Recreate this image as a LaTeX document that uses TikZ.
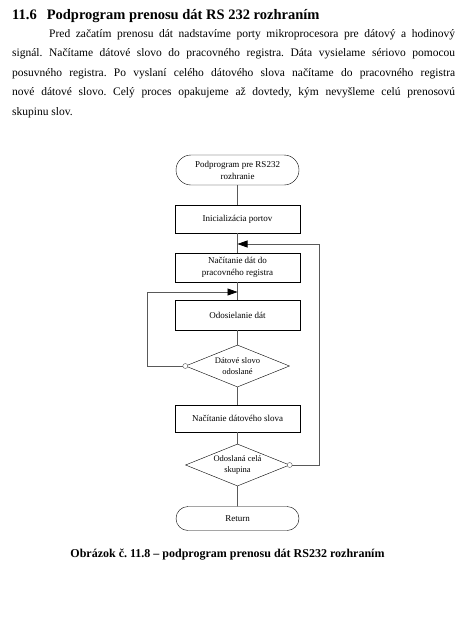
\documentclass[tikz,border=0pt]{standalone}
\usepackage{fontspec}
\setmainfont{Liberation Serif}
\usetikzlibrary{shapes.geometric,shapes.misc,arrows.meta}
\frenchspacing

\begin{document}
\begin{tikzpicture}[x=1pt, y=-1pt,
	krok/.style={draw, minimum width=125pt, minimum height=28pt, inner sep=1pt, align=center, font=\fontsize{9}{12}\selectfont},
	koniec/.style={krok, rounded rectangle, minimum height=30pt},
	rozhod/.style={draw, diamond, aspect=2.5, minimum width=104pt, minimum height=42pt, inner sep=0pt, align=center, font=\fontsize{8.5}{11}\selectfont},
	spoj/.style={draw=black!65, line width=0.7pt},
	sipka/.style={spoj, -{Triangle[length=10pt, width=7pt, color=black]}},
	kruh/.style={circle, draw=black!65, fill=white, inner sep=0pt, minimum size=5pt}]
	\def\xS{237.5} %stred schemy
	\useasboundingbox[fill=white] (0,0) rectangle (470,632);
	
	%Nadpis a text
	\node[anchor=base west, inner sep=0pt, font=\fontsize{14.5}{16}\bfseries\selectfont] (nadpis) at (12,19)
	{11.6\hspace{10pt}Podprogram prenosu dát RS 232 rozhraním};
	\node[anchor=base west, inner sep=0pt, text width=443pt, align=justify, font=\fontsize{11.5}{19.6}\selectfont] (odsek) at (12,37)
	{\hspace*{37pt}Pred začatím prenosu dát nadstavíme porty mikroprocesora pre dátový a hodinový\linebreak
	signál. Načítame dátové slovo do pracovného registra. Dáta vysielame sériovo pomocou\linebreak
	posuvného registra. Po vyslaní celého dátového slova načítame do pracovného registra\linebreak
	nové dátové slovo. Celý proces opakujeme až dovtedy, kým nevyšleme celú prenosovú\linebreak
	skupinu slov.};
	
	%Schema
	\node[koniec] (start) at (\xS,170) {Podprogram pre RS232\\rozhranie};
	\node[krok] (init) at (\xS,219) {Inicializácia portov};
	\node[krok, minimum height=29pt] (nacit) at (\xS,267.5) {Načítanie dát do\\pracovného registra};
	\node[krok, minimum height=30pt] (odos) at (\xS,315) {Odosielanie dát};
	\node[rozhod] (slovo) at (\xS,366) {Dátové slovo\\odoslané};
	\node[krok, minimum height=27pt] (nacit2) at (\xS,418.5) {Načítanie dátového slova};
	\node[rozhod] (skup) at (\xS,465) {Odoslaná celá\\skupina};
	\node[koniec, minimum height=24pt] (ret) at (\xS,518.5) {Return};
	\node[anchor=base, inner sep=0pt, font=\fontsize{12}{14}\bfseries\selectfont] (popis) at (227.5,557)
	{Obrázok č. 11.8 – podprogram prenosu dát RS232 rozhraním};
	
	%Spojnice
	\coordinate (j1) at (\xS,244);
	\coordinate (j2) at (\xS,292);
	\draw[spoj] (start) -- (init);
	\draw[spoj] (init) -- (nacit);
	\draw[spoj] (nacit) -- (odos);
	\draw[spoj] (odos) -- (slovo);
	\draw[spoj] (slovo) -- (nacit2);
	\draw[spoj] (nacit2) -- (skup);
	\draw[spoj] (skup) -- (ret);
	\draw[sipka] (slovo.west) -- ++(-38,0) |- (j2);
	\draw[sipka] (skup.east) -- ++(30,0) |- (j1);
	\node[kruh] (k1) at (slovo.west) {};
	\node[kruh] (k2) at (skup.east) {};
	
\end{tikzpicture}
\end{document}
